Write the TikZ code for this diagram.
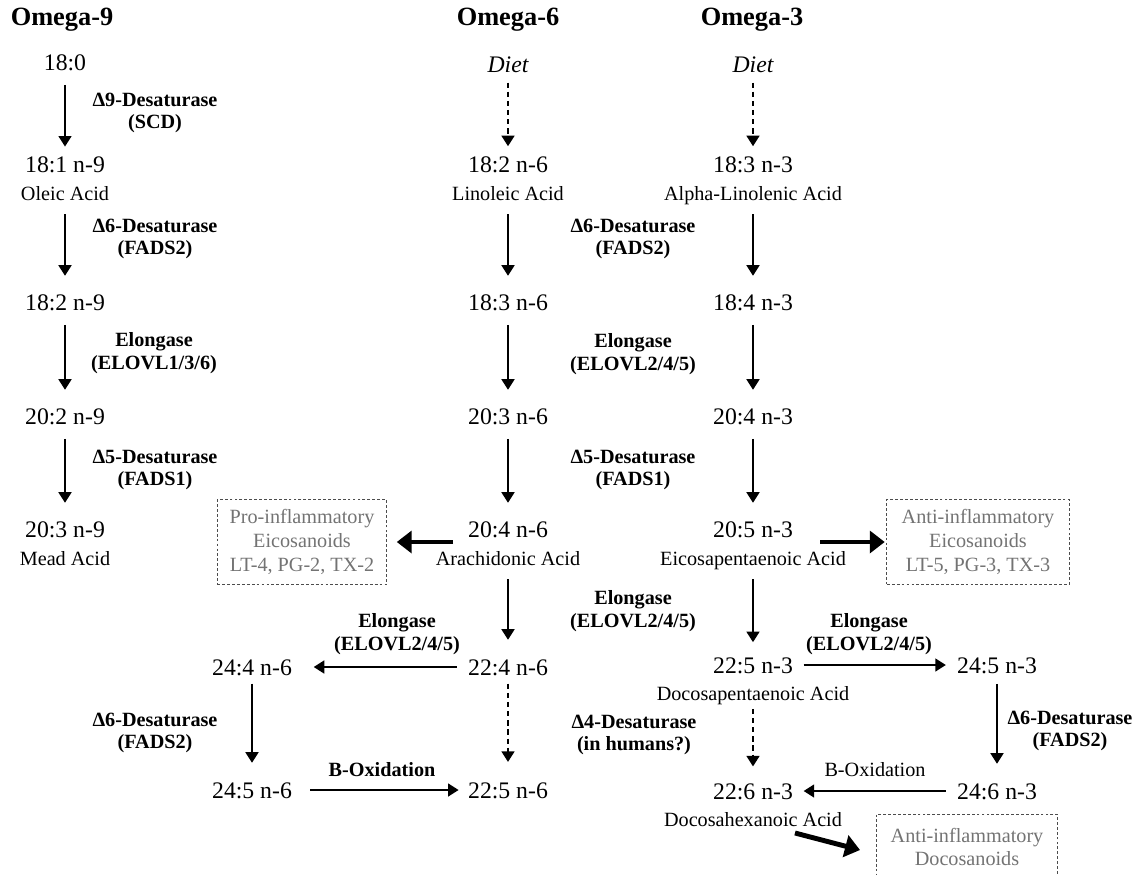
\documentclass[tikz,border=0pt]{standalone}
\usepackage{fontspec}
\setmainfont{Liberation Serif}
\usetikzlibrary{positioning,arrows.meta}
\definecolor{boxgray}{gray}{0.45}

\begin{document}
\begin{tikzpicture}[x=0.02cm, y=-0.02cm, line width=0.9pt,
    fa/.style={font=\fontsize{13.5}{16}\selectfont, inner sep=0pt, text height=9.1pt, text depth=0pt},
    nm/.style={font=\fontsize{11.5}{13}\selectfont, inner sep=0pt, text height=7.6pt, text depth=0pt},
    hd/.style={font=\fontsize{15}{18}\selectfont\bfseries},
    enz/.style={font=\fontsize{11.5}{13}\selectfont\bfseries, align=center},
    eic/.style={draw=black!70, dash pattern=on 1.6pt off 1.2pt, line width=0.5pt, text=boxgray, align=center,
        font=\fontsize{11.5}{13.6}\selectfont, minimum width=96.4pt, minimum height=48.2pt},
    conv/.style={-{Triangle[length=6pt,width=7.4pt]}, shorten <=7.5pt, shorten >=10.5pt},
    diet/.style={conv, dash pattern=on 3pt off 2.2pt, shorten <=5pt, shorten >=5.7pt},
    heavy/.style={-{Triangle[length=8.5pt,width=12.5pt]}, line width=2.8pt}]
    \useasboundingbox (0,0) rectangle (1143,875);

    \node[hd] (t9) at (62,20) {Omega-9};
    \node[hd] (t6) at (508,20) {Omega-6};
    \node[hd] (t3) at (752,20) {Omega-3};

    \node[fa] (a180) at (65,63) {18:0};
    \node[fa] (a181) at (65,165) {18:1 n-9};
    \node[nm, below=7pt of a181] (ole) {Oleic Acid};
    \node[fa] (a182) at (65,303) {18:2 n-9};
    \node[fa] (a202) at (65,417) {20:2 n-9};
    \node[fa] (a203) at (65,530) {20:3 n-9};
    \node[nm, below=7pt of a203] (mead) {Mead Acid};

    \node[fa, font=\fontsize{13.5}{16}\selectfont\itshape] (d6) at (508,65) {Diet};
    \node[fa] (b182) at (508,165) {18:2 n-6};
    \node[nm, below=7pt of b182] (lin) {Linoleic Acid};
    \node[fa] (b183) at (508,303) {18:3 n-6};
    \node[fa] (b203) at (508,417) {20:3 n-6};
    \node[fa] (b204) at (508,530) {20:4 n-6};
    \node[nm, below=7pt of b204] (ara) {Arachidonic Acid};
    \node[fa] (b224) at (508,667) {22:4 n-6};
    \node[fa] (b225) at (508,790) {22:5 n-6};
    \node[fa] (b244) at (252,667) {24:4 n-6};
    \node[fa] (b245) at (252,790) {24:5 n-6};

    \node[fa, font=\fontsize{13.5}{16}\selectfont\itshape] (d3) at (753,65) {Diet};
    \node[fa] (c183) at (753,165) {18:3 n-3};
    \node[nm, below=7pt of c183] (ala) {Alpha-Linolenic Acid};
    \node[fa] (c184) at (753,303) {18:4 n-3};
    \node[fa] (c204) at (753,417) {20:4 n-3};
    \node[fa] (c205) at (753,530) {20:5 n-3};
    \node[nm, below=7pt of c205] (epa) {Eicosapentaenoic Acid};
    \node[fa] (c225) at (753,665) {22:5 n-3};
    \node[nm, below=7pt of c225] (dpa) {Docosapentaenoic Acid};
    \node[fa] (c226) at (753,791) {22:6 n-3};
    \node[nm, below=7pt of c226] (dha) {Docosahexanoic Acid};
    \node[fa] (c245) at (997,665) {24:5 n-3};
    \node[fa] (c246) at (997,791) {24:6 n-3};

    \node[eic] (pro) at (302,542) {Pro-inflammatory\\Eicosanoids\\LT-4, PG-2, TX-2};
    \node[eic, minimum width=103.7pt] (anti) at (978,542) {Anti-inflammatory\\Eicosanoids\\LT-5, PG-3, TX-3};
    \node[eic, minimum width=103pt, minimum height=37.4pt] (doco) at (967,847) {Anti-inflammatory\\Docosanoids};

    \node[enz] (scd) at (155,113) {Δ9-Desaturase\\(SCD)};
    \node[enz] (f2a) at (155,239) {Δ6-Desaturase\\(FADS2)};
    \node[enz] (el136) at (154,353) {Elongase\\(ELOVL1/3/6)};
    \node[enz] (f1a) at (155,470) {Δ5-Desaturase\\(FADS1)};
    \node[enz] (f2b) at (633,239) {Δ6-Desaturase\\(FADS2)};
    \node[enz] (el1) at (633,354) {Elongase\\(ELOVL2/4/5)};
    \node[enz] (f1b) at (633,470) {Δ5-Desaturase\\(FADS1)};
    \node[enz] (el2) at (633,611) {Elongase\\(ELOVL2/4/5)};
    \node[enz] (el3) at (397,634) {Elongase\\(ELOVL2/4/5)};
    \node[enz] (el4) at (869,634) {Elongase\\(ELOVL2/4/5)};
    \node[enz] (f2c) at (155,733) {Δ6-Desaturase\\(FADS2)};
    \node[enz] (d4) at (634,735) {Δ4-Desaturase\\(in humans?)};
    \node[enz] (f2d) at (1070,731) {Δ6-Desaturase\\(FADS2)};
    \node[enz] (box1) at (382,770) {B-Oxidation};
    \node[font=\fontsize{11.5}{13}\selectfont] (box2) at (875,770) {B-Oxidation};

    \draw[conv]
    (a180) edge[shorten >=5.5pt] (a181)
    (ole) edge (a182)
    (a182) edge (a202)
    (a202) edge (a203)
    (lin) edge (b183)
    (b183) edge (b203)
    (b203) edge (b204)
    (ara) edge (b224)
    (b244) edge[shorten <=4.5pt] (b245)
    (ala) edge (c184)
    (c184) edge (c204)
    (c204) edge (c205)
    (epa) edge[shorten >=8pt] (c225)
    (c245) edge[shorten <=5.7pt] (c246)
    (b224) edge[shorten <=6pt, shorten >=12pt] (b244)
    (b245) edge[shorten <=10pt, shorten >=5pt] (b225)
    (c225) edge[shorten <=5.7pt, shorten >=6pt] (c245)
    (c246) edge[shorten <=6pt, shorten >=5.7pt] (c226);
    \draw[diet]
    (d6) edge (b182)
    (d3) edge (c183)
    (b224) edge[shorten <=4.5pt, shorten >=11pt] (b225)
    (dpa) edge[shorten <=4.5pt, shorten >=9pt] (c226);

    \coordinate (pa) at (453,542);
    \coordinate (ea) at (820,542);
    \coordinate (xa) at (795,833);
    \coordinate (xb) at (860,850);
    \draw[heavy, shorten >=5.5pt] (pa) -- (pro);
    \draw[heavy, shorten >=1pt] (ea) -- (anti);
    \draw[heavy] (xa) -- (xb);
\end{tikzpicture}
\end{document}
